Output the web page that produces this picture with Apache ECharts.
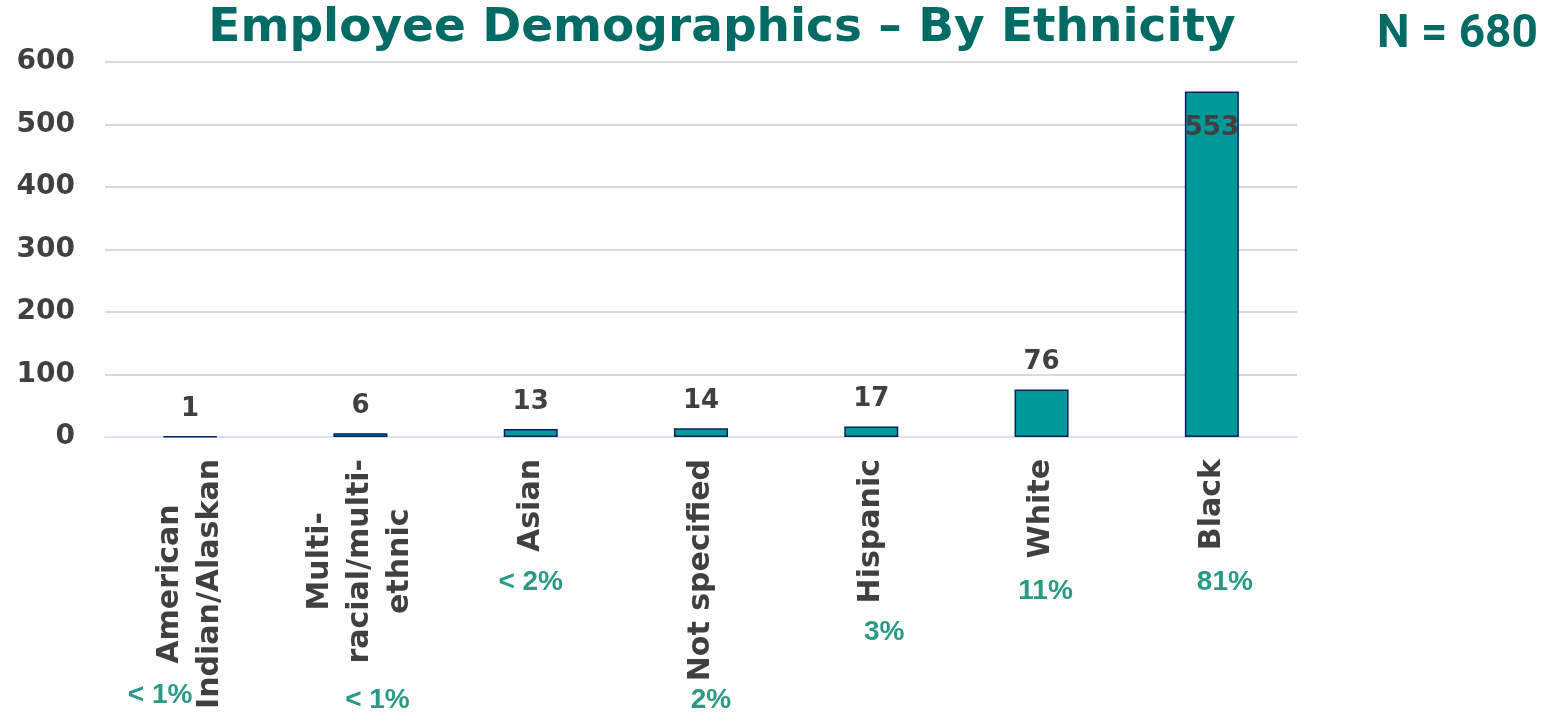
<!DOCTYPE html>
<html><head><meta charset="utf-8">
<script src="https://cdn.jsdelivr.net/npm/echarts@6/dist/echarts.min.js"></script>
<style>html,body{margin:0;padding:0;background:#fff}#c{width:1548px;height:715px}</style>
</head><body><div id="c"></div>
<script>
const categories = ['American\nIndian/Alaskan', 'Multi-\nracial/multi-\nethnic', 'Asian', 'Not specified', 'Hispanic', 'White', 'Black'];
const counts = [1, 6, 13, 14, 17, 76, 553];
const percents = ['< 1%', '< 1%', '< 2%', '2%', '3%', '11%', '81%'];
const yTicks = [0, 100, 200, 300, 400, 500, 600];
const titleText = 'Employee Demographics \u2013 By Ethnicity';
const nText = 'N = 680';

// layout of percentage labels (pixel offsets from category centre / absolute y)
const pctLayout = [[-30, 695], [17, 700], [0, 582], [10, 700], [13, 632], [4, 591], [13, 582]];

const F = "'DejaVu Sans', sans-serif";
const chart = echarts.init(document.getElementById('c'));
chart.setOption({
  animation: false,
  title: [
    {text: titleText, left: 717, top: 0, textAlign: 'center',
     textStyle: {fontFamily: F, fontWeight: 'bold', fontSize: 47, color: '#006b64'}},
    {text: nText, left: 1372, top: 7,
     textStyle: {fontFamily: 'Roboto, sans-serif', fontWeight: 'bold', fontSize: 46, color: '#006b64'}}
  ],
  grid: {left: 105, right: 251, top: 62, bottom: 278, containLabel: false},
  xAxis: {
    type: 'category', data: categories,
    axisLine: {lineStyle: {color: '#d9e1f2', width: 2}},
    axisTick: {show: false},
    axisLabel: {rotate: 90, margin: 22, interval: 0,
      formatter: v => v.split('\n').map(s => '{c|' + s + '}').join('\n'),
      rich: {c: {align: 'center', fontFamily: F, fontWeight: 'bold', fontSize: 30, color: '#404040', lineHeight: 40}}}
  },
  yAxis: {
    type: 'value', min: 0, max: 600, interval: 100,
    axisLine: {show: false}, axisTick: {show: false},
    axisLabel: {margin: 30, fontFamily: F, fontWeight: 'bold', fontSize: 28, color: '#404040',
      formatter: v => yTicks.includes(v) ? String(v) : ''},
    splitLine: {lineStyle: {color: '#d9d9d9', width: 2}}
  },
  series: [{
    type: 'bar', barWidth: 54,
    data: counts.map((v, i) => i === counts.length - 1
      ? {value: v, label: {position: 'insideTop', distance: 24}} : v),
    itemStyle: {color: '#009999', borderColor: '#002060', borderWidth: 1.5},
    label: {show: true, position: 'top', distance: 14, fontFamily: F, fontWeight: 'bold', fontSize: 26, color: '#404040'}
  }]
});

const g = percents.map((p, i) => {
  const x = chart.convertToPixel({xAxisIndex: 0}, i);
  return {type: 'text', x: x + pctLayout[i][0], y: pctLayout[i][1],
    style: {text: p, align: 'center', verticalAlign: 'middle',
      font: "bold 28px 'Liberation Sans', Arial, sans-serif", fill: '#2a9a87'}};
});
chart.setOption({graphic: g});
</script></body></html>
